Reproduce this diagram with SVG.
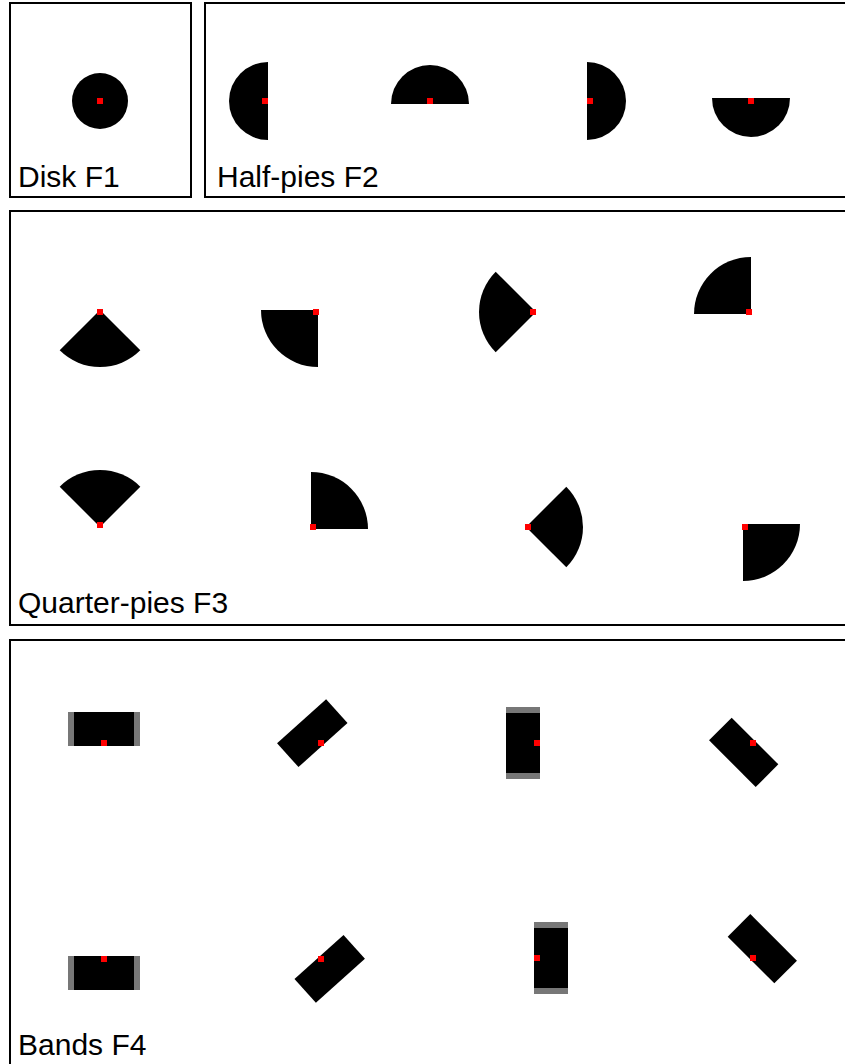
<svg xmlns="http://www.w3.org/2000/svg" width="845" height="1064" viewBox="0 0 845 1064">
<style>
.panel{fill:#fff;stroke:#000;stroke-width:2}
.shape{fill:#000}
.end{fill:#777}
.dot{fill:#ff0000}
.lbl{font-family:"Liberation Sans",Arial,sans-serif;font-size:30px;fill:#000}
</style>
<rect width="845" height="1064" fill="#fff"/>
<g id="panel-f1">
<rect class="panel" x="10" y="3" width="181" height="194"/>
<text class="lbl" x="18" y="187">Disk F1</text>
<g id="disk"><circle class="shape" cx="100" cy="101" r="28"/><rect class="dot" x="97" y="98" width="6" height="6"/></g>
</g>
<g id="panel-f2">
<rect class="panel" x="205" y="3" width="660" height="194"/>
<text class="lbl" x="217" y="187">Half-pies F2</text>
<g id="hp1"><path class="shape" d="M268,62 A39,39 0 0 0 268,140 Z"/><rect class="dot" x="262" y="98" width="6" height="6"/></g>
<g id="hp2"><path class="shape" d="M391,104 A39,39 0 0 1 469,104 Z"/><rect class="dot" x="427" y="98" width="6" height="6"/></g>
<g id="hp3"><path class="shape" d="M587,62 A39,39 0 0 1 587,140 Z"/><rect class="dot" x="587" y="98" width="6" height="6"/></g>
<g id="hp4"><path class="shape" d="M712,98 A39,39 0 0 0 790,98 Z"/><rect class="dot" x="748" y="98" width="6" height="6"/></g>
</g>
<g id="panel-f3">
<rect class="panel" x="10" y="211" width="860" height="414"/>
<text class="lbl" x="18" y="613">Quarter-pies F3</text>
<g id="qp1"><path class="shape" d="M100,310 L140.3,350.3 A57,57 0 0 1 59.7,350.3 Z"/><rect class="dot" x="97" y="309" width="6" height="6"/></g>
<g id="qp2"><path class="shape" d="M318,310 L318,367 A57,57 0 0 1 261,310 Z"/><rect class="dot" x="313" y="309" width="6" height="6"/></g>
<g id="qp3"><path class="shape" d="M536,312 L495.7,352.3 A57,57 0 0 1 495.7,271.7 Z"/><rect class="dot" x="530" y="309" width="6" height="6"/></g>
<g id="qp4"><path class="shape" d="M751,314 L694,314 A57,57 0 0 1 751,257 Z"/><rect class="dot" x="746" y="309" width="6" height="6"/></g>
<g id="qp5"><path class="shape" d="M100,527 L59.7,486.7 A57,57 0 0 1 140.3,486.7 Z"/><rect class="dot" x="97" y="522" width="6" height="6"/></g>
<g id="qp6"><path class="shape" d="M311,529 L311,472 A57,57 0 0 1 368,529 Z"/><rect class="dot" x="310" y="524" width="6" height="6"/></g>
<g id="qp7"><path class="shape" d="M526,527 L566.3,486.7 A57,57 0 0 1 566.3,567.3 Z"/><rect class="dot" x="525" y="524" width="6" height="6"/></g>
<g id="qp8"><path class="shape" d="M743,524 L800,524 A57,57 0 0 1 743,581 Z"/><rect class="dot" x="742" y="524" width="6" height="6"/></g>
</g>
<g id="panel-f4">
<rect class="panel" x="10" y="640" width="860" height="440"/>
<text class="lbl" x="18" y="1055">Bands F4</text>
<g id="b1" transform="translate(104,746)"><rect class="end" x="-36" y="-34" width="72" height="34"/><rect class="shape" x="-30" y="-34" width="60" height="34"/></g>
<g id="b2" transform="translate(323,745) rotate(-42)"><rect class="shape" x="-33" y="-32" width="66" height="32"/></g>
<g id="b3" transform="translate(540,743) rotate(-90)"><rect class="end" x="-36" y="-34" width="72" height="34"/><rect class="shape" x="-30" y="-34" width="60" height="34"/></g>
<g id="b4" transform="translate(755,741) rotate(-135)"><rect class="shape" x="-33" y="-32" width="66" height="32"/></g>
<g id="b5" transform="translate(104,956) rotate(180)"><rect class="end" x="-36" y="-34" width="72" height="34"/><rect class="shape" x="-30" y="-34" width="60" height="34"/></g>
<g id="b6" transform="translate(319,957) rotate(138)"><rect class="shape" x="-33" y="-32" width="66" height="32"/></g>
<g id="b7" transform="translate(534,958) rotate(90)"><rect class="end" x="-36" y="-34" width="72" height="34"/><rect class="shape" x="-30" y="-34" width="60" height="34"/></g>
<g id="b8" transform="translate(751,960) rotate(45)"><rect class="shape" x="-33" y="-32" width="66" height="32"/></g>
<g id="band-dots">
<rect class="dot" x="101" y="740" width="6" height="6"/>
<rect class="dot" x="318" y="740" width="6" height="6"/>
<rect class="dot" x="534" y="740" width="6" height="6"/>
<rect class="dot" x="750" y="740" width="6" height="6"/>
<rect class="dot" x="101" y="956" width="6" height="6"/>
<rect class="dot" x="318" y="956" width="6" height="6"/>
<rect class="dot" x="534" y="955" width="6" height="6"/>
<rect class="dot" x="750" y="955" width="6" height="6"/>
</g>
</g>
</svg>
